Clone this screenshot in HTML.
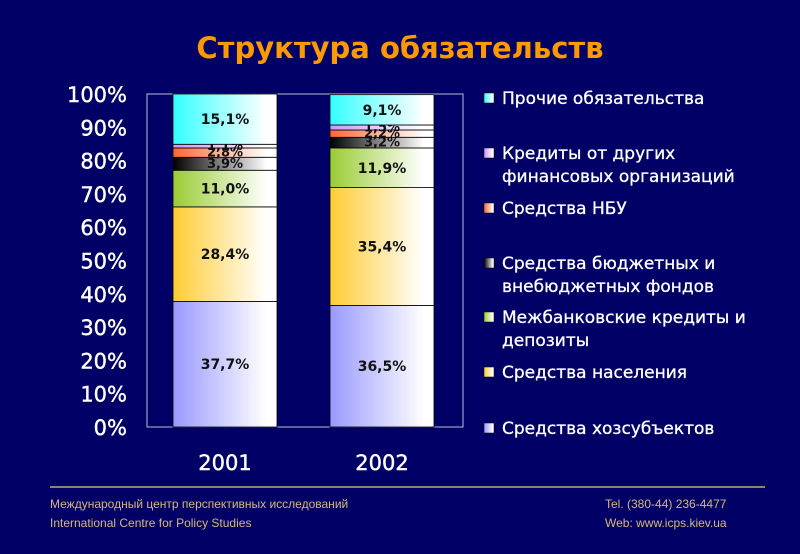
<!DOCTYPE html>
<html><head><meta charset="utf-8"><style>
body{margin:0;background:#000066;}
svg{display:block}
</style></head><body>
<svg id="c" width="800" height="554" viewBox="0 0 800 554" xmlns="http://www.w3.org/2000/svg" font-family="'DejaVu Sans','Liberation Sans',sans-serif">
<defs></defs>
<rect width="800" height="554" fill="#000066"/>
<text x="400" y="58" text-anchor="middle" font-size="29" font-weight="bold" fill="#ff9900">Структура обязательств</text>
<g id="plot"></g>
<line x1="50" y1="487" x2="765" y2="487" stroke="#c8a870" stroke-width="1.5"/>
<text x="50" y="508" font-size="12" fill="#d8b878" font-family="'Liberation Sans',sans-serif">Международный центр перспективных исследований</text>
<text x="50" y="527" font-size="12" fill="#d8b878" font-family="'Liberation Sans',sans-serif">International Centre for Policy Studies</text>
<text x="605" y="508" font-size="12" fill="#d8b878" font-family="'Liberation Sans',sans-serif">Tel. (380-44) 236-4477</text>
<text x="605" y="527" font-size="12" fill="#d8b878" font-family="'Liberation Sans',sans-serif">Web: www.icps.kiev.ua</text>
</svg>
<script>
const categories=["2001","2002"];
const seriesNames=["Средства хозсубъектов","Средства населения","Межбанковские кредиты и депозиты","Средства бюджетных и внебюджетных фондов","Средства НБУ","Кредиты от других финансовых организаций","Прочие обязательства"];
const values2001=[37.7,28.4,11.0,3.9,2.8,1.1,15.1];
const values2002=[36.5,35.4,11.9,3.2,2.2,1.5,9.1];
const yTicks=[0,10,20,30,40,50,60,70,80,90,100];
const colors=["#9999ff","#ffcc33","#99cc33","#000000","#ff6633","#cc99ff","#33ffff"];
const legendLines=[["Средства хозсубъектов"],["Средства населения"],["Межбанковские кредиты и","депозиты"],["Средства бюджетных и","внебюджетных фондов"],["Средства НБУ"],["Кредиты от других","финансовых организаций"],["Прочие обязательства"]];
const legendY=[434,378,323,269,214,159,104];
const NS="http://www.w3.org/2000/svg";
const svg=document.getElementById('c'),g=document.getElementById('plot'),defs=svg.querySelector('defs');
function mk(t,a,p){const e=document.createElementNS(NS,t);for(const k in a)e.setAttribute(k,a[k]);(p||g).appendChild(e);return e;}
const px0=147,px1=463,py0=427,py1=94;
const y=v=>py0-(v/100)*(py0-py1);
const xc=i=>[225,382][i];
const bw=104;
colors.forEach((c,i)=>{const lg=mk('linearGradient',{id:'g'+i,x1:0,x2:1,y1:0,y2:0},defs);mk('stop',{offset:'0','stop-color':c},lg);mk('stop',{offset:'0.9','stop-color':'#ffffff'},lg);});
const fr=mk('rect',{x:px0,y:py1,width:px1-px0,height:py0-py1,fill:'none',stroke:'#bbbbdd','stroke-width':1});

yTicks.forEach(t=>{const tx=mk('text',{x:127,y:y(t)+8,'text-anchor':'end','font-size':21,fill:'#fff',stroke:'#fff','stroke-width':0.4});tx.textContent=t+'%';
});
[values2001,values2002].forEach((vals,ci)=>{let acc=0;
 const xl=xc(ci)-bw/2;
 vals.forEach((v,si)=>{const yt=y(acc+v),yb=y(acc);
  const r=mk('rect',{x:xl,y:yt,width:bw,height:yb-yt,fill:'url(#g'+si+')',stroke:'#000','stroke-width':0.8});
  
  const small=v<5;
  const t=mk('text',{x:xc(ci),y:(yt+yb)/2+(small?4:5),'text-anchor':'middle','font-size':small?13:14,'font-weight':'bold',fill:'#111'});
  t.textContent=v.toFixed(1).replace('.',',')+'%';
  
  acc+=v;});
 const xt=mk('text',{x:xc(ci),y:470,'text-anchor':'middle','font-size':21,fill:'#fff',stroke:'#fff','stroke-width':0.4});xt.textContent=categories[ci];
 
});
legendLines.forEach((ls,i)=>{
 const m=mk('rect',{x:484,y:legendY[i]-11,width:10,height:10,fill:'url(#g'+i+')',stroke:'#000','stroke-width':0.5});
 
 ls.forEach((l,j)=>{const t=mk('text',{x:502,y:legendY[i]+j*23,'font-size':17,fill:'#fff',stroke:'#fff','stroke-width':0.3});t.textContent=l;
  });
});
</script>
</body></html>
